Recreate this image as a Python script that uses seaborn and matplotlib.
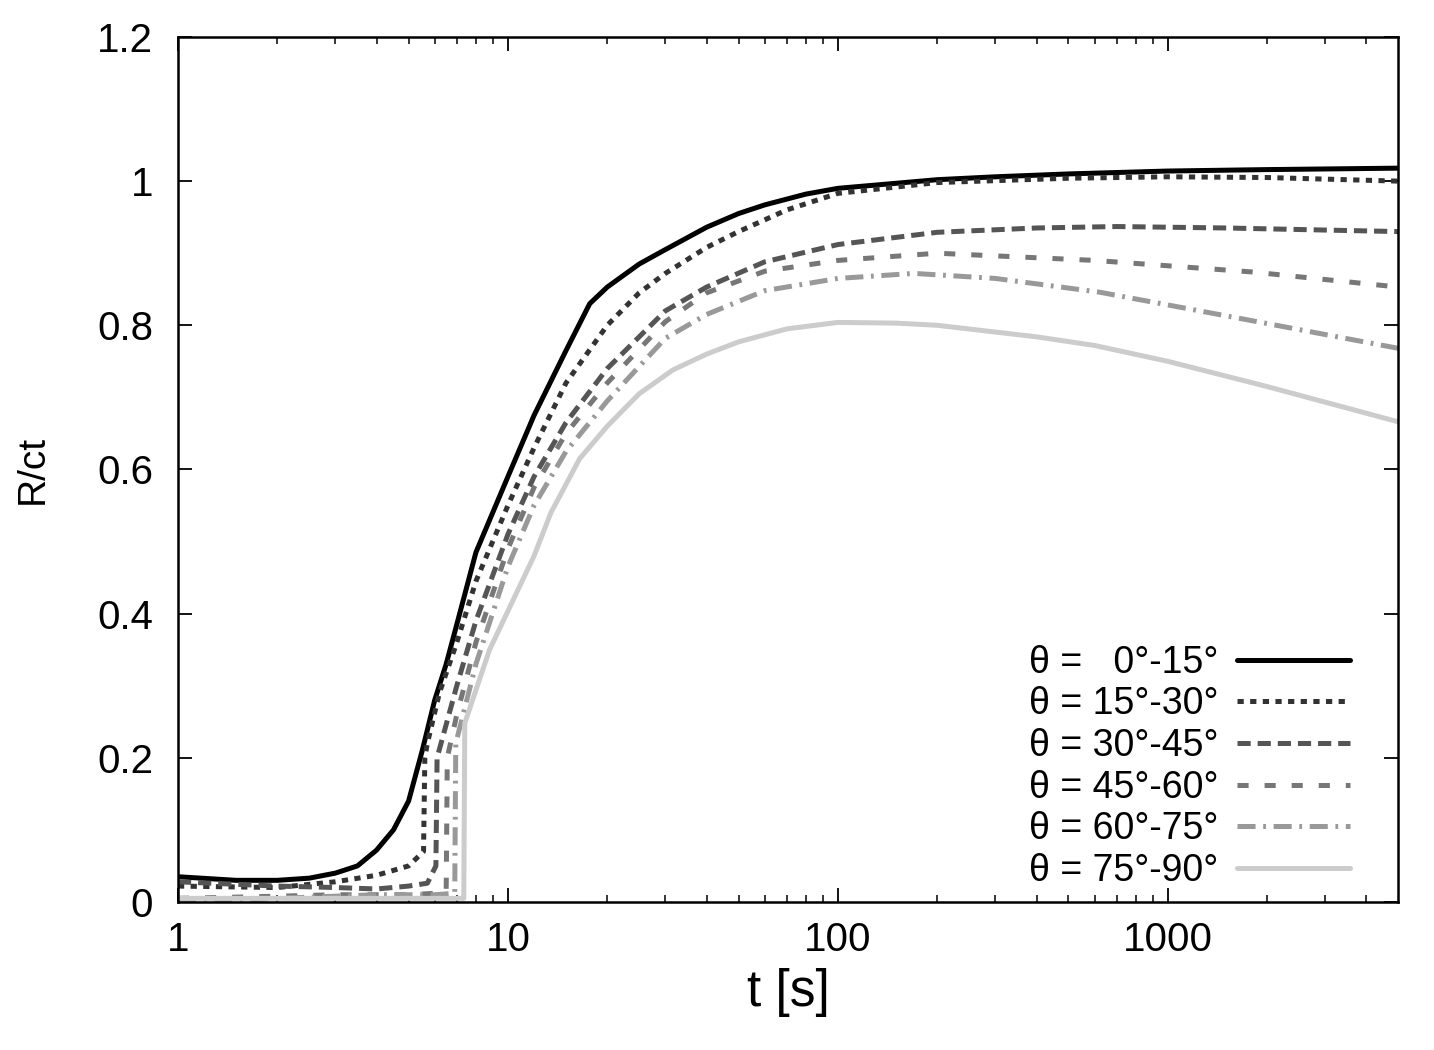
import matplotlib
matplotlib.use('Agg')
import matplotlib.pyplot as plt
import matplotlib.ticker as mticker
import numpy as np
import pandas as pd
import seaborn as sns

labels = ['θ =   0°-15°', 'θ = 15°-30°', 'θ = 30°-45°',
          'θ = 45°-60°', 'θ = 60°-75°', 'θ = 75°-90°']

t1 = [1, 1.5, 2, 2.5, 3, 3.5, 4, 4.5, 5, 5.5, 6, 6.5, 7, 8, 10, 12, 15, 17.7, 20, 25, 30, 40, 50, 60, 80, 100, 150, 200, 300, 500, 1000, 2000, 5000]
r1 = [0.035, 0.03, 0.03, 0.033, 0.04, 0.05, 0.072, 0.1, 0.14, 0.21, 0.28, 0.33, 0.385, 0.485, 0.59, 0.675, 0.765, 0.83, 0.853, 0.885, 0.905, 0.936, 0.955, 0.967, 0.982, 0.99, 0.997, 1.002, 1.006, 1.01, 1.014, 1.016, 1.018]

t2 = [1, 2, 3, 4, 5, 5.55, 5.6, 5.7, 6.2, 7, 8, 10, 12, 15, 20, 25, 30, 40, 50, 70, 100, 200, 500, 1000, 2000, 5000]
r2 = [0.022, 0.02, 0.028, 0.037, 0.05, 0.07, 0.2, 0.22, 0.29, 0.36, 0.445, 0.55, 0.63, 0.72, 0.80, 0.845, 0.872, 0.908, 0.93, 0.96, 0.983, 0.998, 1.004, 1.006, 1.005, 1.0]

t3 = [1, 2, 3, 4, 5, 5.7, 6.05, 6.1, 7, 8, 10, 12, 15, 20, 30, 40, 60, 100, 200, 400, 700, 1500, 5000]
r3 = [0.028, 0.022, 0.02, 0.018, 0.022, 0.026, 0.05, 0.2, 0.3, 0.39, 0.51, 0.59, 0.665, 0.74, 0.82, 0.853, 0.888, 0.912, 0.929, 0.935, 0.937, 0.935, 0.93]

t4 = [1, 2, 3, 4, 5, 6, 6.5, 6.55, 7, 8, 10, 12, 15, 20, 30, 40, 60, 100, 200, 600, 1800, 5000]
r4 = [0.005, 0.008, 0.01, 0.01, 0.01, 0.012, 0.015, 0.2, 0.26, 0.36, 0.49, 0.575, 0.65, 0.72, 0.805, 0.845, 0.875, 0.89, 0.9, 0.89, 0.874, 0.853]

t5 = [1, 1.3, 2, 3, 4, 5, 6, 6.9, 6.95, 8, 10, 12, 15, 20, 30, 40, 60, 100, 170, 300, 620, 1770, 5000]
r5 = [0.0, 0.0, 0.005, 0.008, 0.01, 0.01, 0.01, 0.012, 0.22, 0.33, 0.465, 0.55, 0.625, 0.695, 0.782, 0.815, 0.848, 0.865, 0.872, 0.865, 0.846, 0.807, 0.768]

t6 = [1, 2, 3, 4, 5, 6, 7, 7.35, 7.4, 8, 8.8, 10.4, 12, 13.5, 16.5, 20, 25, 31.6, 40, 50, 70, 100, 150, 200, 400, 600, 1000, 2000, 5000]
r6 = [0.005, 0.005, 0.005, 0.005, 0.005, 0.005, 0.005, 0.005, 0.248, 0.294, 0.35, 0.42, 0.48, 0.54, 0.615, 0.66, 0.705, 0.738, 0.76, 0.777, 0.795, 0.804, 0.803, 0.8, 0.784, 0.772, 0.75, 0.715, 0.666]

xticks = [1, 10, 100, 1000]
yticks = [0, 0.2, 0.4, 0.6, 0.8, 1, 1.2]

colors = ['#000000', '#333333', '#555555', '#777777', '#999999', '#cccccc']
dash_styles = ['', (4.5, 4.6), (9.5, 5), (8, 11.5), (13, 5.5, 2, 5.5), '']

frames = []
for lab, t, r in zip(labels, [t1, t2, t3, t4, t5, t6], [r1, r2, r3, r4, r5, r6]):
    frames.append(pd.DataFrame({'t': t, 'R': r, 'series': lab}))
data = pd.concat(frames, ignore_index=True)

sns.set_style('ticks')
plt.rcParams['font.family'] = ['Liberation Sans', 'DejaVu Sans']
plt.rcParams['lines.scale_dashes'] = False
plt.rcParams['xtick.direction'] = 'in'
plt.rcParams['ytick.direction'] = 'in'
for k in ['text.color', 'axes.labelcolor', 'xtick.color', 'ytick.color']:
    plt.rcParams[k] = 'black'

fig = plt.figure(figsize=(14.34, 10.5), dpi=100)
ax = fig.add_axes([0.1241, 0.141, 0.8507, 0.8238])

sns.lineplot(data=data, x='t', y='R', hue='series', style='series',
             palette=dict(zip(labels, colors)), dashes=dict(zip(labels, dash_styles)),
             estimator=None, sort=False, linewidth=3.6, legend=False, ax=ax)

ax.set_xscale('log')
ax.set_xlim(1, 4980)
ax.set_ylim(0, 1.2)
ax.set_xticks(xticks)
ax.xaxis.set_major_formatter(mticker.FuncFormatter(lambda v, p: '%g' % v))
ax.xaxis.set_minor_locator(mticker.LogLocator(base=10, subs=np.arange(2, 10)))
ax.xaxis.set_minor_formatter(mticker.NullFormatter())
ax.set_yticks(yticks)
ax.yaxis.set_major_formatter(mticker.FuncFormatter(lambda v, p: '%g' % v))

ax.tick_params(which='major', length=10, width=1.3, labelsize=29, top=True, right=True)
ax.tick_params(axis='x', which='major', pad=14)
ax.tick_params(axis='y', which='major', pad=18)
ax.tick_params(which='minor', length=5, width=1.1, top=True, right=True)
for sp in ax.spines.values():
    sp.set_linewidth(1.8)
    sp.set_color('black')

ax.set_xlabel('t [s]', fontsize=37, labelpad=6)
ax.set_ylabel('R/ct', fontsize=28, labelpad=33)

ax.legend(ax.get_lines()[:6], labels, loc='lower right', bbox_to_anchor=(0.9607, 0.015),
          frameon=False, fontsize=27, markerfirst=False, handlelength=3.0,
          handletextpad=0.5, labelspacing=0.15, borderpad=0, borderaxespad=0)

fig.savefig('out.png', dpi=100)
